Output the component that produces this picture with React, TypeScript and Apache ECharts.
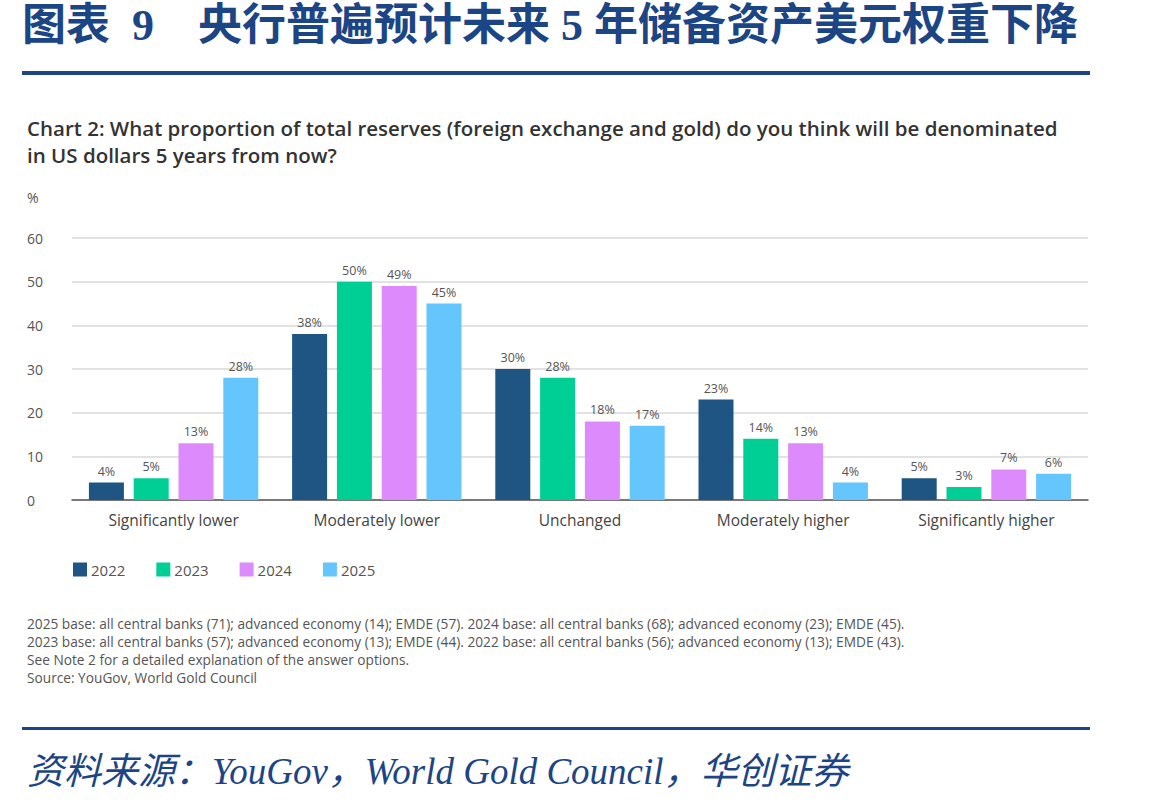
import React, { useEffect, useRef } from "react";
import * as echarts from "echarts";

// Survey answer buckets
const categories = [
  "Significantly lower",
  "Moderately lower",
  "Unchanged",
  "Moderately higher",
  "Significantly higher",
];

// Share of respondents (%) per survey year
const y2022 = [4, 38, 30, 23, 5];
const y2023 = [5, 50, 28, 14, 3];
const y2024 = [13, 49, 18, 13, 7];
const y2025 = [28, 45, 17, 4, 6];

const seriesNames = ["2022", "2023", "2024", "2025"];
const seriesColors = ["#1f5583", "#00cf95", "#dd8bfc", "#64c6fd"];

const footnotes = [
  "2025 base: all central banks (71); advanced economy (14); EMDE (57). 2024 base: all central banks (68); advanced economy (23); EMDE (45).",
  "2023 base: all central banks (57); advanced economy (13); EMDE (44). 2022 base: all central banks (56); advanced economy (13); EMDE (43).",
  "See Note 2 for a detailed explanation of the answer options.",
  "Source: YouGov, World Gold Council",
];

const SANS = "'Open Sans', 'Noto Sans', sans-serif";
const CN_SERIF = "'Liberation Serif', 'Noto Sans CJK SC', serif";
const BRAND_BLUE = "#1c4586";

export default function App() {
  const ref = useRef<HTMLDivElement>(null);

  useEffect(() => {
    document.body.style.margin = "0";
    if (!ref.current) return;
    const chart = echarts.init(ref.current, undefined, { renderer: "svg" });

    const values = [y2022, y2023, y2024, y2025];

    chart.setOption({
      animation: false,
      backgroundColor: "#ffffff",
      grid: { left: 72, right: 61, top: 238, bottom: 304, containLabel: false },
      legend: {
        left: 68,
        top: 557,
        itemWidth: 14,
        itemHeight: 14,
        itemGap: 31,
        icon: "rect",
        textStyle: { fontFamily: SANS, fontSize: 15, color: "#555555", padding: [0, 0, 0, -1] },
        data: seriesNames,
      },
      xAxis: {
        type: "category",
        data: categories,
        axisLine: { lineStyle: { color: "#555555", width: 1.5 } },
        axisTick: { show: false },
        axisLabel: { fontFamily: SANS, fontSize: 15.5, color: "#444444", margin: 12 },
      },
      yAxis: {
        type: "value",
        min: 0,
        max: 60,
        interval: 10,
        axisLine: { show: false },
        axisTick: { show: false },
        splitLine: { lineStyle: { color: "#d9d9d9", width: 1.5 } },
        axisLabel: { fontFamily: SANS, fontSize: 14, color: "#555555", align: "left", margin: 45 },
      },
      series: seriesNames.map((name, i) => ({
        name,
        type: "bar",
        data: values[i],
        barWidth: 35,
        barGap: "28%",
        itemStyle: { color: seriesColors[i] },
        label: {
          show: true,
          position: "top",
          distance: 5,
          formatter: "{c}%",
          fontFamily: SANS,
          fontSize: 12.5,
          color: "#555555",
        },
      })),
      graphic: [
        {
          type: "text",
          left: 22,
          top: 3,
          style: {
            text: "图表  9    央行普遍预计未来 5 年储备资产美元权重下降",
            fontFamily: CN_SERIF,
            fontWeight: "bold",
            fontSize: 44,
            fill: BRAND_BLUE,
          },
        },
        {
          type: "rect",
          shape: { x: 22, y: 71, width: 1068, height: 4 },
          style: { fill: BRAND_BLUE },
        },
        {
          type: "text",
          left: 27,
          top: 114,
          style: {
            text:
              "Chart 2: What proportion of total reserves (foreign exchange and gold) do you think will be denominated\nin US dollars 5 years from now?",
            fontFamily: SANS,
            fontWeight: 600,
            fontSize: 20.5,
            lineHeight: 27,
            fill: "#333333",
          },
        },
        {
          type: "text",
          left: 27,
          top: 190,
          style: { text: "%", fontFamily: SANS, fontSize: 14, fill: "#555555" },
        },
        {
          type: "text",
          left: 27,
          top: 614,
          style: {
            text: footnotes.join("\n"),
            fontFamily: SANS,
            fontSize: 13.7,
            lineHeight: 18,
            fill: "#555555",
          },
        },
        {
          type: "rect",
          shape: { x: 22, y: 727, width: 1068, height: 3 },
          style: { fill: BRAND_BLUE },
        },
        {
          type: "text",
          left: 27,
          top: 753,
          style: {
            text: "资料来源：YouGov，World Gold Council，华创证券",
            fontFamily: CN_SERIF,
            fontStyle: "italic",
            fontSize: 37,
            fill: BRAND_BLUE,
          },
        },
      ],
    });

    return () => chart.dispose();
  }, []);

  return <div ref={ref} style={{ width: 1149, height: 804 }} />;
}
